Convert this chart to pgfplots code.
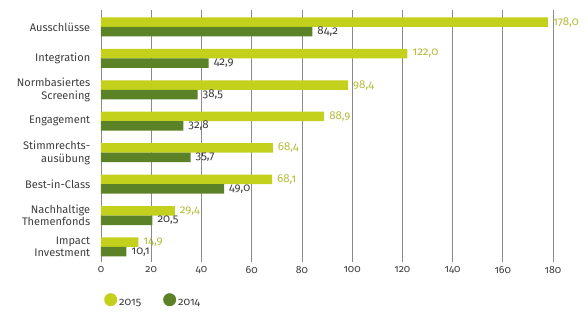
\documentclass[border=0pt]{standalone}
\usepackage{pgfplots}
\pgfplotsset{compat=1.18}
\usepackage{fontspec}
\setmainfont{Fira Sans}[Numbers=OldStyle]
\definecolor{lgreen}{HTML}{C3D01C}
\definecolor{dgreen}{HTML}{5B8226}
\definecolor{lblgreen}{HTML}{B4BE3A}
\definecolor{txt}{HTML}{3E3E3E}
\definecolor{gridc}{HTML}{8A8A8A}
\begin{document}
\begin{tikzpicture}[x=1pt,y=1pt]
\path[use as bounding box] (0,0) rectangle (588,322);
\begin{axis}[
  at={(101pt,60pt)}, anchor=south west,
  scale only axis,
  width=452pt, height=252pt,
  xmin=0, xmax=180,
  ymin=-0.48, ymax=7.54,
  xbar, bar width=9.5pt,
  axis line style={draw=none},
  xmajorgrids, grid style={gridc, line width=0.6pt},
  xtick={0,20,...,180},
  xtick style={draw=none},
  ytick={0,...,7},
  ytick style={draw=none},
  yticklabels={{Impact\\Investment},{Nachhaltige\\Themenfonds},{Best-in-Class},{Stimmrechts-\\ausübung},{Engagement},{Normbasiertes\\Screening},{Integration},{Ausschlüsse}},
  yticklabel style={align=right, font=\fontsize{11}{12.5}\selectfont, text=txt, xshift=-3pt},
  xticklabel style={font=\fontsize{10.5}{12}\selectfont, text=txt, yshift=-1pt,
    /pgf/number format/fixed, /pgf/number format/precision=0},
  /pgf/number format/assume math mode=true,
  clip=false,
  nodes near coords={\pgfmathprintnumber[use comma, fixed, fixed zerofill, precision=1, assume math mode=true]{\pgfplotspointmeta}},
  nodes near coords style={font=\fontsize{11.5}{12}\selectfont, anchor=west, xshift=1.5pt},
  legend style={draw=none, at={(0.0,-0.115)}, anchor=north west, legend columns=2,
    font=\fontsize{11}{12}\selectfont, text=txt, /tikz/every even column/.append style={column sep=20pt}},
  legend image code/.code={\fill[#1] (0.3em,0.3em) circle (6.5pt);},
]
\addplot[draw=none, fill=lgreen, bar shift=4.75pt, nodes near coords style={text=lblgreen}] coordinates {
(14.9,0) (29.4,1) (68.1,2) (68.4,3) (88.9,4) (98.4,5) (122.0,6) (178.0,7)};
\addplot[draw=none, fill=dgreen, bar shift=-4.75pt, nodes near coords style={text=txt}] coordinates {
(10.1,0) (20.5,1) (49.0,2) (35.7,3) (32.8,4) (38.5,5) (42.9,6) (84.2,7)};
\addlegendentry{2015}
\addlegendentry{2014}
\end{axis}
\end{tikzpicture}
\end{document}
